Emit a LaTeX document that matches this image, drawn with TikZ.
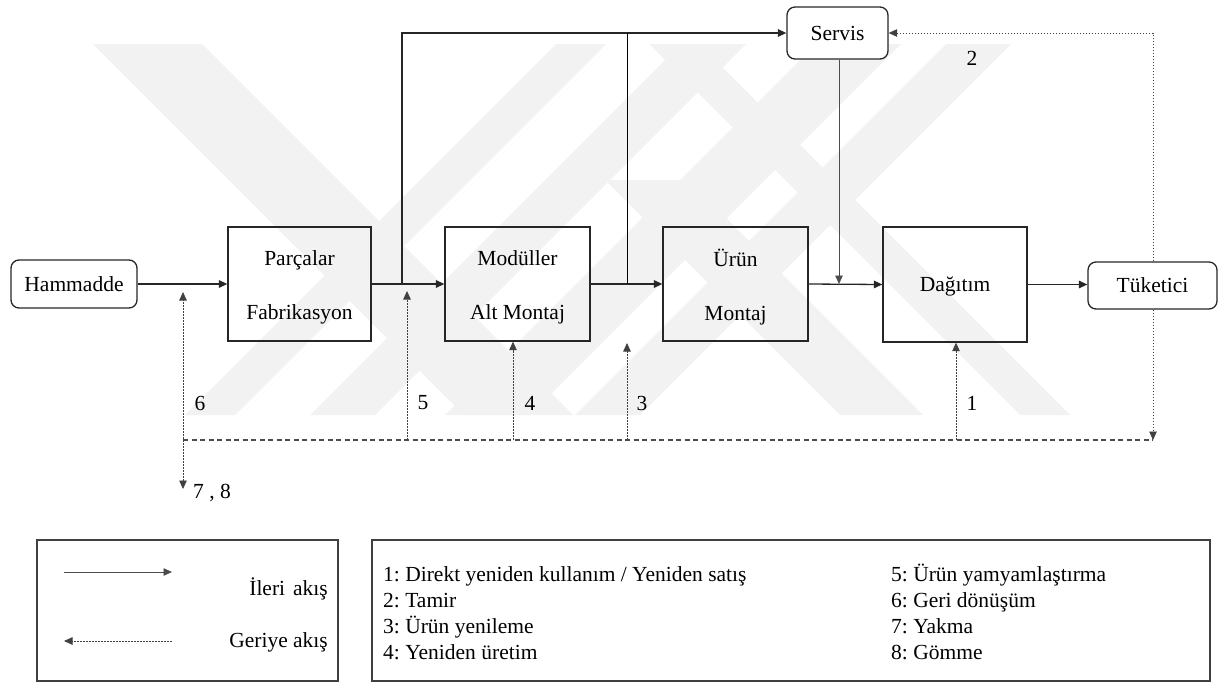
\documentclass[tikz,border=0pt]{standalone}
\usepackage{fontspec}
\setmainfont{Liberation Serif}
\usetikzlibrary{arrows.meta}
\begin{document}
\frenchspacing
\begin{tikzpicture}[x=1pt,y=-1pt,
  every node/.style={font=\fontsize{21.5}{26}\selectfont, inner sep=0pt},
  box/.style={draw=black!85, line width=1.3pt},
  boxtext/.style={align=center, font=\fontsize{21.5}{54}\selectfont, yshift=-3.5pt},
  rbox/.style={draw=black!85, line width=1.3pt, rounded corners=8pt},
  lbox/.style={draw=black!75, line width=1.3pt},
  tip/.style={-{Triangle[length=8.5pt,width=7.5pt]}},
  fwd/.style={line width=1.3pt, draw=black!85, tip},
  thinfwd/.style={line width=0.8pt, draw=black!70, tip},
  bwd/.style={line width=0.8pt, draw=black!75, dash pattern=on 1.6pt off 1.4pt, tip},
  dashline/.style={line width=1.5pt, draw=black!70, dash pattern=on 5pt off 3.5pt},
  wm/.style={fill=black!5, draw=none}
]
\path[use as bounding box] (0,0) rectangle (1220,683);

% faint background watermark bands
\foreach \a/\b in {600/650, 725/790, 860/945, 990/1055}
  \fill[wm] ({\a-44},44) -- ({\b-44},44) -- ({\b-415},415) -- ({\a-415},415) -- cycle;
\foreach \a/\b/\t in {49/158/44, 425/508/180, 605/655/44}
  \fill[wm] ({\a+\t},\t) -- ({\b+\t},\t) -- ({\b+415},415) -- ({\a+415},415) -- cycle;

% nodes
\node[rbox, minimum width=126pt, minimum height=48pt] (ham) at (74,284) {Hammadde};
\node[box, minimum width=143pt, minimum height=114pt,
  label={[boxtext, name=parcT]center:Parçalar\\Fabrikasyon}] (parc) at (299.5,284) {};
\node[box, minimum width=145pt, minimum height=114pt,
  label={[boxtext, name=modT]center:Modüller\\Alt Montaj}] (mod) at (517.5,284) {};
\node[box, minimum width=145pt, minimum height=114pt,
  label={[boxtext, name=urunT]center:Ürün\\Montaj}] (urun) at (735.5,284) {};
\node[box, minimum width=144pt, minimum height=115pt,
  label={[boxtext, yshift=1.5pt, name=dagT]center:Dağıtım}] (dag) at (955,284.5) {};
\node[rbox, fill=white, minimum width=129pt, minimum height=47pt] (tuk) at (1152.5,285.5) {Tüketici};
\node[rbox, fill=white, minimum width=101pt, minimum height=52pt] (serv) at (837.5,33) {Servis};

% labels
\node (l2) at (972,58) {2};
\node (l6) at (200,403) {6};
\node (l5) at (423,403) {5};
\node (l4) at (530,403) {4};
\node (l3) at (642,403) {3};
\node (l1) at (972,403) {1};
\node[anchor=west] (l78) at (193,493) {7 , 8};

% coordinates
\coordinate (j1) at (402,284);
\coordinate (t1) at (402,33);
\coordinate (j2) at (627,284);
\coordinate (t2) at (627,33);
\coordinate (sd) at (839,284);
\coordinate (bend) at (1153,440);
\coordinate (c6) at (183,440);
\coordinate (c5) at (407,440);
\coordinate (c4) at (513,440);
\coordinate (c3) at (627,440);
\coordinate (c1) at (956,440);
\coordinate (a6) at (183,292);
\coordinate (a78) at (183,489);
\coordinate (a5) at (407,291);
\coordinate (a3) at (627,343);

% forward flow
\draw[fwd] (ham.east) -- (parc.west);
\draw[fwd] (parc.east) -- (mod.west);
\draw[fwd] (mod.east) -- (urun.west);
\draw[fwd] (urun.east) -- (dag.west);
\draw[fwd] (dag.east) -- (dag.east -| tuk.west);
\draw[fwd] (j1) -- (t1) -- (serv.west);
\draw[line width=0.8pt] (t2) -- (j2);
\draw[thinfwd] (serv.south -| sd) -- (sd);

% backward flow
\draw[bwd] (tuk.north -| bend) -- (serv.east -| bend) -- (serv.east);
\draw[bwd] (tuk.south -| bend) -- (bend);
\draw[dashline] (c6) -- (bend);
\draw[bwd] (c1) -- (c1 |- dag.south);
\draw[bwd] (c3) -- (a3);
\draw[bwd] (c4) -- (c4 |- mod.south);
\draw[bwd] (c5) -- (a5);
\draw[bwd, {Triangle[length=8.5pt,width=7.5pt]}-{Triangle[length=8.5pt,width=7.5pt]}] (a78) -- (a6);

% legend
\node[lbox, minimum width=301pt, minimum height=141pt] (leg1) at (187.5,610.5) {};
\node[lbox, minimum width=838pt, minimum height=141pt] (leg2) at (791,610.5) {};
\coordinate (la1) at (64,572);
\coordinate (lb1) at (172,572);
\coordinate (la2) at (64,641);
\coordinate (lb2) at (172,641);
\draw[thinfwd] (la1) -- (lb1);
\draw[bwd] (lb2) -- (la2);
\node[anchor=base east] (ileri) at (328,595) {İleri\hspace{8pt}akış};
\node[anchor=base east] (geri) at (328,647) {Geriye akış};

\node[anchor=base west] (r1) at (383,581) {1: Direkt yeniden kullanım / Yeniden satış};
\node[anchor=base west] (r2) at (383,607) {2: Tamir};
\node[anchor=base west] (r3) at (383,633) {3: Ürün yenileme};
\node[anchor=base west] (r4) at (383,659) {4: Yeniden üretim};
\node[anchor=base west] (r5) at (891,581) {5: Ürün yamyamlaştırma};
\node[anchor=base west] (r6) at (891,607) {6: Geri dönüşüm};
\node[anchor=base west] (r7) at (891,633) {7: Yakma};
\node[anchor=base west] (r8) at (891,659) {8: Gömme};
\end{tikzpicture}
\end{document}
